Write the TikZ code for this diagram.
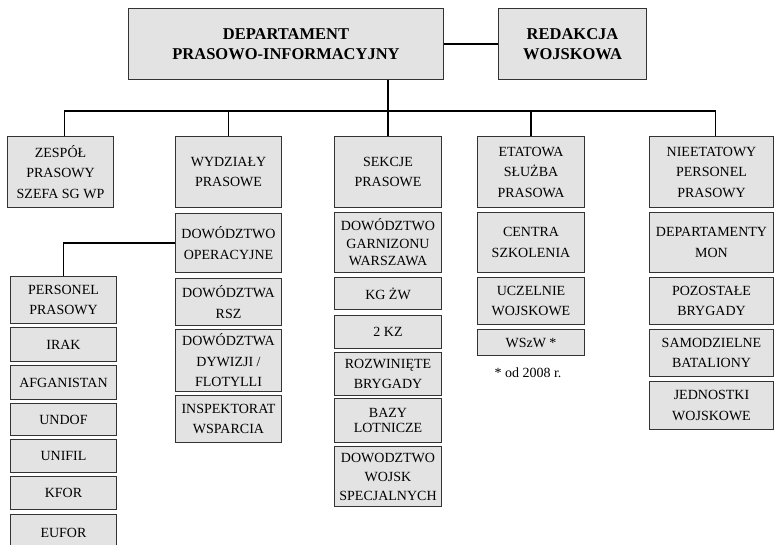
\documentclass[tikz,border=0pt]{standalone}
\usepackage{fontspec}
\setmainfont{Liberation Serif}
\tikzset{
  unit/.style={draw=black!80, fill=black!11, line width=1pt, align=center,
    inner sep=0pt, anchor=north west, font=\fontsize{14}{20.5}\selectfont},
  head/.style={unit, font=\bfseries\fontsize{16.5}{20}\selectfont},
  link/.style={line width=1.6pt}
}
\begin{document}
\begin{tikzpicture}[x=1pt,y=-1pt]
  \useasboundingbox (0,0) rectangle (775,544);
  % top level
  \node[head, minimum width=315, minimum height=71] (dep) at (128,8) {DEPARTAMENT\\PRASOWO-INFORMACYJNY};
  \node[head, minimum width=148, minimum height=71] (red) at (498,8) {REDAKCJA\\WOJSKOWA};
  % second level
  \node[unit, minimum width=106, minimum height=71] (zespol) at (7,136) {ZESPÓŁ\\PRASOWY\\SZEFA SG WP};
  \node[unit, minimum width=106, minimum height=71] (wydz) at (175,136) {WYDZIAŁY\\PRASOWE};
  \node[unit, minimum width=107, minimum height=71] (sekcje) at (334,136) {SEKCJE\\PRASOWE};
  \node[unit, minimum width=107, minimum height=71] (etat) at (477,136) {ETATOWA\\SŁUŻBA\\PRASOWA};
  \node[unit, minimum width=124, minimum height=71] (nieet) at (649,136) {NIEETATOWY\\PERSONEL\\PRASOWY};
  % wydzialy prasowe
  \node[unit, minimum width=106, minimum height=59] (dowop) at (175,213) {DOWÓDZTWO\\OPERACYJNE};
  \node[unit, minimum width=106, minimum height=47] (rsz) at (175,278) {DOWÓDZTWA\\RSZ};
  \node[unit, minimum width=106, minimum height=62] (dyw) at (175,329) {DOWÓDZTWA\\DYWIZJI /\\FLOTYLLI};
  \node[unit, minimum width=106, minimum height=47] (insp) at (175,395) {INSPEKTORAT\\WSPARCIA};
  % personel prasowy
  \node[unit, minimum width=106, minimum height=47] (personel) at (10,276) {PERSONEL\\PRASOWY};
  \node[unit, minimum width=106, minimum height=34] (irak) at (10,327) {IRAK};
  \node[unit, minimum width=106, minimum height=34] (afg) at (10,365) {AFGANISTAN};
  \node[unit, minimum width=106, minimum height=32] (undof) at (10,403) {UNDOF};
  \node[unit, minimum width=106, minimum height=33] (unifil) at (10,439) {UNIFIL};
  \node[unit, minimum width=106, minimum height=33] (kfor) at (10,476) {KFOR};
  \node[unit, minimum width=106, minimum height=36] (eufor) at (10,514) {EUFOR};
  % sekcje prasowe
  \node[unit, minimum width=107, minimum height=60, font=\fontsize{14}{17.5}\selectfont] (garn) at (334,212) {DOWÓDZTWO\\GARNIZONU\\WARSZAWA};
  \node[unit, minimum width=107, minimum height=32] (kgzw) at (334,277) {KG ŻW};
  \node[unit, minimum width=107, minimum height=33] (kz) at (334,315) {2 KZ};
  \node[unit, minimum width=107, minimum height=43] (bryg) at (334,352) {ROZWINIĘTE\\BRYGADY};
  \node[unit, minimum width=107, minimum height=44, font=\fontsize{14}{15}\selectfont] (bazy) at (334,398) {BAZY\\LOTNICZE};
  \node[unit, minimum width=107, minimum height=60, font=\fontsize{14}{19}\selectfont] (dws) at (334,446) {DOWODZTWO\\WOJSK\\SPECJALNYCH};
  % etatowa sluzba prasowa
  \node[unit, minimum width=107, minimum height=60] (centra) at (477,212) {CENTRA\\SZKOLENIA};
  \node[unit, minimum width=107, minimum height=47] (ucz) at (477,277) {UCZELNIE\\WOJSKOWE};
  \node[unit, minimum width=107, minimum height=26] (wszw) at (477,329) {WSzW *};
  \node[font=\fontsize{14}{17}\selectfont] (uwaga) at (528,373) {* od 2008 r.};
  % nieetatowy personel prasowy
  \node[unit, minimum width=124, minimum height=60] (mon) at (649,212) {DEPARTAMENTY\\MON};
  \node[unit, minimum width=124, minimum height=47] (pozbr) at (649,277) {POZOSTAŁE\\BRYGADY};
  \node[unit, minimum width=124, minimum height=47] (bat) at (649,329) {SAMODZIELNE\\BATALIONY};
  \node[unit, minimum width=124, minimum height=48] (jw) at (649,381) {JEDNOSTKI\\WOJSKOWE};
  % connectors
  \coordinate (bus) at (0,111);
  \draw[link] (dep) -- (red);
  \draw[link] (dep.south -| sekcje.north) -- (sekcje.north);
  \draw[link] ([xshift=4pt]zespol.north) |- ([xshift=4pt]nieet.north |- bus) -- ([xshift=4pt]nieet.north);
  \draw[link] (wydz.north) -- (wydz.north |- bus);
  \draw[link] (etat.north) -- (etat.north |- bus);
  \draw[link] (dowop.west) -| (personel.north);
\end{tikzpicture}
\end{document}
